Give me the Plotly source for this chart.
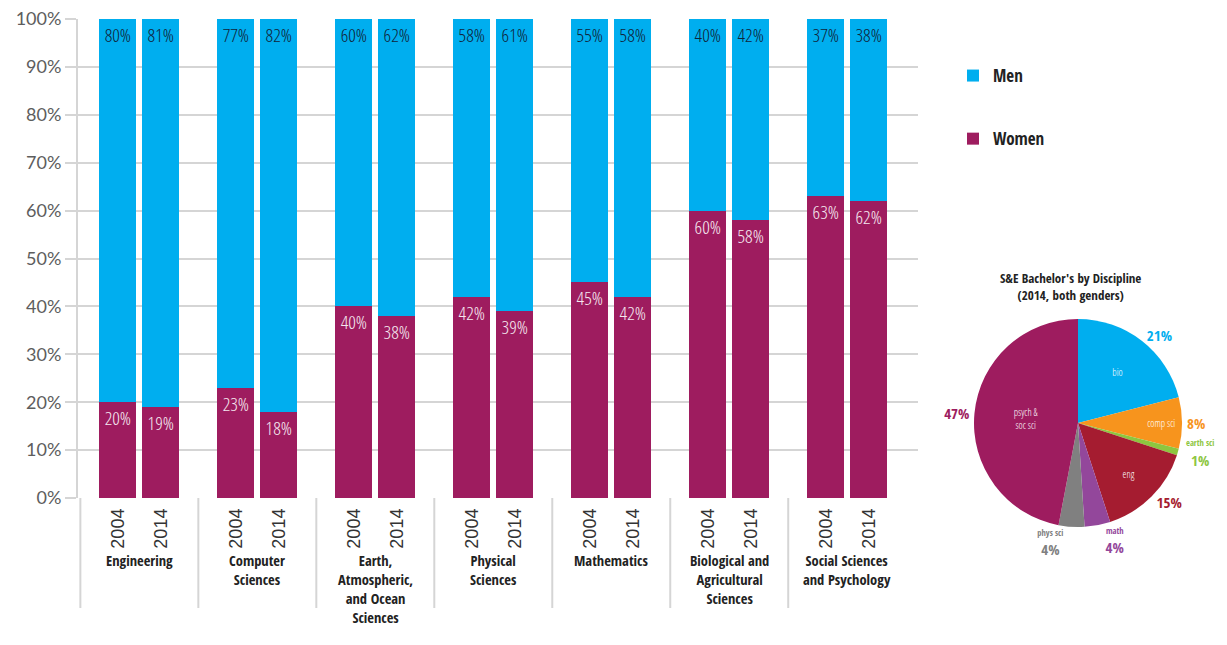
import plotly.graph_objects as go

# ---------------- data ----------------
groups = ["Engineering", "Computer<br>Sciences", "Earth,<br>Atmospheric,<br>and Ocean<br>Sciences",
          "Physical<br>Sciences", "Mathematics", "Biological and<br>Agricultural<br>Sciences",
          "Social Sciences<br>and Psychology"]
years = ["2004", "2014"]
women_2004 = [20, 23, 40, 42, 45, 60, 63]
women_2014 = [19, 18, 38, 39, 42, 58, 62]
men_2004 = [80, 77, 60, 58, 55, 40, 37]
men_2014 = [81, 82, 62, 61, 58, 42, 38]

pie_labels = ["bio", "comp sci", "earth sci", "eng", "math", "phys sci", "psych & soc sci"]
pie_values = [21, 8, 1, 15, 4, 4, 47]

# ---------------- styles ----------------
MEN = "#00AEEF"
WOMEN = "#9E1C5F"
GRID = "#d5d5d5"
pie_colors = [MEN, "#F7941D", "#8DC63F", "#A51C30", "#93479B", "#808080", WOMEN]
NARROW = "Open Sans Condensed, Liberation Sans Narrow, Roboto, sans-serif"
LABELF = "Open Sans Condensed Light, Roboto, sans-serif"

W, H = 1211, 620
L, T = 70, 11
PH = H - T          # paper height (b = 0)
PW = W - L


def py(page_y):
    """page pixel (reference picture) -> paper fraction"""
    return (H - (page_y - 8)) / PH


def px(page_x):
    return (page_x - 8 - L) / PW


offset = 0.182
bar_w = 0.314

xs, women, men, ticktext = [], [], [], []
for i in range(len(groups)):
    for j, yr in enumerate(years):
        xs.append(i + (j - 0.5) * 2 * offset)
        women.append(women_2004[i] if j == 0 else women_2014[i])
        men.append(men_2004[i] if j == 0 else men_2014[i])
        ticktext.append(yr)

fig = go.Figure()
fig.add_trace(go.Bar(
    x=xs, y=women, name="Women", width=bar_w, marker=dict(color=WOMEN, line=dict(width=0)),
    text=[f"{v}%" for v in women], textposition="inside", insidetextanchor="end",
    textfont=dict(family=LABELF, size=19, color="#f5e8f0"), legendgroup="w", legendrank=2,
    constraintext="none", textangle=0,
))
fig.add_trace(go.Bar(
    x=xs, y=men, name="Men", width=bar_w, marker=dict(color=MEN, line=dict(width=0)),
    text=[f"{v}%" for v in men], textposition="inside", insidetextanchor="end",
    textfont=dict(family=LABELF, size=19, color="#10243a"), legendgroup="m", legendrank=1,
    constraintext="none", textangle=0,
))

inside_txt = []
outside_txt = []
for lab in pie_labels:
    if lab in ("earth sci", "math", "phys sci"):
        inside_txt.append("")
        outside_txt.append(f"<span style='font-size:8.5px;font-weight:300'>{lab}</span><br>%{{percent:.0%}}")
    else:
        inside_txt.append(lab.replace(" & ", " &<br>"))
        outside_txt.append("%{percent:.0%}")

pie_domain = dict(x=[px(974), px(1182)], y=[py(527), py(319)])
fig.add_trace(go.Pie(
    labels=pie_labels, values=pie_values, sort=False, direction="clockwise", rotation=0,
    marker=dict(colors=pie_colors, line=dict(width=0)), domain=pie_domain,
    texttemplate=inside_txt, textposition="inside", insidetextorientation="horizontal",
    textfont=dict(family=LABELF, size=10, color="white"), showlegend=False, hoverinfo="skip",
))
fig.add_trace(go.Pie(
    labels=pie_labels, values=pie_values, sort=False, direction="clockwise", rotation=0,
    marker=dict(colors=["rgba(0,0,0,0)"] * len(pie_values), line=dict(width=0)), domain=pie_domain,
    texttemplate=outside_txt, textposition="outside",
    outsidetextfont=dict(family=NARROW, size=15, color=pie_colors, weight="bold"),
    showlegend=False, hoverinfo="skip",
))

annotations = []
for i, g in enumerate(groups):
    annotations.append(dict(x=i, xref="x", y=py(549), yref="paper", yanchor="top", xanchor="center",
                            text=f"<b>{g}</b>", showarrow=False, align="center",
                            font=dict(family=NARROW, size=14.5, color="#222")))
annotations.append(dict(x=px(1070), xref="paper", y=py(267), yref="paper", yanchor="top", xanchor="center",
                        text="<b>S&E Bachelor's by Discipline<br>(2014, both genders)</b>",
                        showarrow=False, font=dict(family=NARROW, size=13, color="#222"), align="center"))

shapes = []
for i in range(len(groups)):
    shapes.append(dict(type="line", xref="x", yref="paper", x0=i - 0.5, x1=i - 0.5,
                       y0=py(498), y1=py(608), line=dict(color=GRID, width=2), layer="below"))

fig.update_layout(
    width=W, height=H, barmode="stack",
    margin=dict(l=L, r=0, t=T, b=0, autoexpand=False),
    paper_bgcolor="white", plot_bgcolor="white",
    xaxis=dict(domain=[0, px(918)], range=[-0.52, 6.6], tickmode="array", tickvals=xs, ticktext=ticktext,
               tickangle=-90, tickfont=dict(family="Liberation Sans, sans-serif", size=18, color="#333"),
               showgrid=False, zeroline=False, showline=False, ticks="", ticklabelstandoff=6,
               automargin=False),
    yaxis=dict(domain=[py(498), 1], range=[0, 100], tickvals=list(range(0, 101, 10)),
               ticktext=[f"{v}%" for v in range(0, 101, 10)], showgrid=True, gridcolor=GRID, gridwidth=2,
               ticks="outside", ticklen=11, tickwidth=2, tickcolor=GRID, ticklabeloverflow="allow",
               tickfont=dict(family="Lato, Open Sans, sans-serif", size=18, color="#5d5d5d"),
               zeroline=False, showline=True, linecolor=GRID, linewidth=2, automargin=False),
    legend=dict(x=px(953), y=py(58), xanchor="left", yanchor="top", traceorder="grouped",
                tracegroupgap=38, font=dict(family=NARROW, size=17, color="#222", weight="bold"),
                itemwidth=30, bgcolor="rgba(0,0,0,0)"),
    annotations=annotations, shapes=shapes,
)

fig.write_html("out.html")
